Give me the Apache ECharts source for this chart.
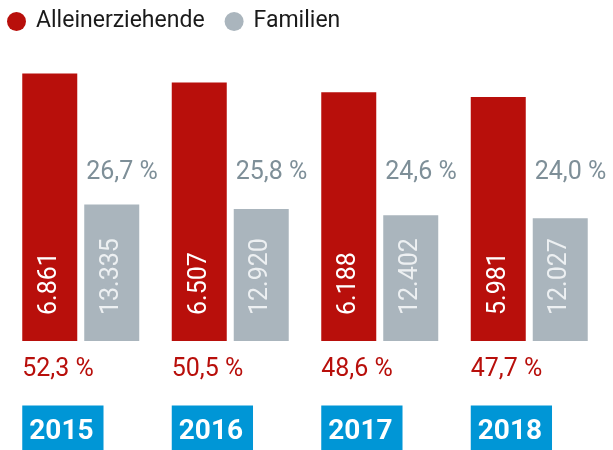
<!DOCTYPE html>
<html>
<head>
<meta charset="utf-8">
<script src="https://cdn.jsdelivr.net/npm/echarts@6/dist/echarts.min.js"></script>
<style>
  html, body { margin: 0; padding: 0; background: #fff; }
  #chart { width: 613px; height: 450px; }
</style>
</head>
<body>
<div id="chart"></div>
<script>
// Daten
const years = ['2015', '2016', '2017', '2018']
const alleinPct = [52.3, 50.5, 48.6, 47.7]
const familienPct = [26.7, 25.8, 24.6, 24.0]
const alleinCount = [6861, 6507, 6188, 5981]
const familienCount = [13335, 12920, 12402, 12027]

const RED = '#b80f0b'
const GREY = '#aab5bd'
const GREY_TEXT = '#7e8f98'
const BLUE = '#0096d6'
const FONT = 'Roboto'

const fmtNum = (v) => v.toLocaleString('de-DE')
const fmtPct = (v) => v.toFixed(1).replace('.', ',') + ' %'

const chart = echarts.init(document.getElementById('chart'))

// gemeinsame Balkeneinstellungen
const barBase = {
  type: 'bar',
  barWidth: 55,
  barGap: '12.7%',
}

const option = {
  animation: false,
  textStyle: { fontFamily: FONT },
  legend: {
    data: ['Alleinerziehende', 'Familien'],
    left: 2,
    top: 5,
    icon: 'circle',
    itemWidth: 19,
    itemHeight: 19,
    itemGap: 20,
    selectedMode: false,
    textStyle: {
      fontFamily: FONT,
      fontSize: 23,
      color: '#1a1a1a',
      padding: [0, 0, 0, 5],
    },
  },
  grid: { left: 6, right: 9, top: 34, bottom: 109 },
  xAxis: [
    { type: 'category', data: years, show: false },
    { type: 'category', data: years, show: false },
  ],
  yAxis: { type: 'value', min: 0, max: 60, show: false },
  series: [
    // sichtbare Balken mit Anzahl
    {
      ...barBase,
      name: 'Alleinerziehende',
      xAxisIndex: 0,
      data: alleinPct,
      itemStyle: { color: RED },
      label: {
        show: true,
        position: 'insideBottom',
        distance: 26,
        rotate: 90,
        align: 'left',
        verticalAlign: 'middle',
        color: '#ffffff',
        fontFamily: FONT,
        fontSize: 25,
        formatter: (p) => fmtNum(alleinCount[p.dataIndex]),
      },
    },
    {
      ...barBase,
      name: 'Familien',
      xAxisIndex: 0,
      data: familienPct,
      itemStyle: { color: GREY },
      label: {
        show: true,
        position: 'insideBottom',
        distance: 26,
        rotate: 90,
        align: 'left',
        verticalAlign: 'middle',
        color: '#edf0f2',
        fontFamily: FONT,
        fontSize: 25,
        formatter: (p) => fmtNum(familienCount[p.dataIndex]),
      },
    },
    // unsichtbare Kopien fuer Prozent- und Jahresbeschriftung
    {
      ...barBase,
      xAxisIndex: 1,
      data: alleinPct,
      silent: true,
      itemStyle: { color: 'rgba(0,0,0,0)' },
      label: {
        show: true,
        position: [0, '100%'],
        align: 'left',
        verticalAlign: 'top',
        formatter: (p) =>
          '{s| }\n{p|' + fmtPct(alleinPct[p.dataIndex]) + '}\n{s2| }\n{y|' + years[p.dataIndex] + '}',
        rich: {
          s: { fontSize: 1, lineHeight: 14 },
          s2: { fontSize: 1, lineHeight: 34 },
          p: {
            fontFamily: FONT,
            fontSize: 25,
            color: RED,
            lineHeight: 30,
          },
          y: {
            fontFamily: FONT,
            fontSize: 28,
            fontWeight: 'bold',
            color: '#ffffff',
            lineHeight: 28,
            backgroundColor: BLUE,
            padding: [12, 10, 15, 7],
          },
        },
      },
    },
    {
      ...barBase,
      xAxisIndex: 1,
      data: familienPct,
      silent: true,
      itemStyle: { color: 'rgba(0,0,0,0)' },
      label: {
        show: true,
        position: [2, 0],
        align: 'left',
        verticalAlign: 'middle',
        color: GREY_TEXT,
        fontFamily: FONT,
        fontSize: 25,
        formatter: (p) => fmtPct(familienPct[p.dataIndex]),
      },
      labelLayout: () => ({ y: 173, verticalAlign: 'middle' }),
    },
  ],
}

chart.setOption(option)
</script>
</body>
</html>
